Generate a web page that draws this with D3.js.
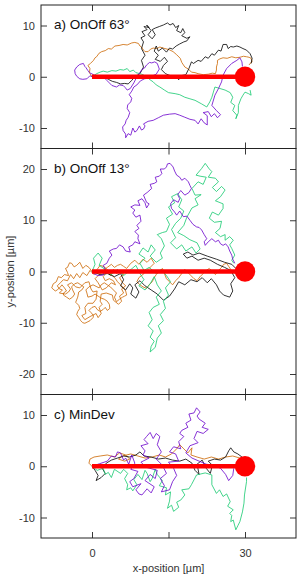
<!DOCTYPE html>
<html><head><meta charset="utf-8">
<script src="https://cdn.jsdelivr.net/npm/d3@7"></script>
<style>
html,body{margin:0;padding:0;background:#fff;}
svg{display:block;font-family:"Liberation Sans",Arial,Helvetica,sans-serif;}
</style></head>
<body><svg id="c" width="297" height="577"></svg>
<script>
// ---------- data ----------
const panelLabels = ["a) OnOff 63°", "b) OnOff 13°", "c) MinDev"];
const panelYDomains = [[-14, 14], [-24, 24], [-14, 14]];
const panelYTicks = [[-10, 0, 10], [-20, -10, 0, 10, 20], [-10, 0, 10]];
const xDomain = [-10, 40];
const xTicks = [0, 15, 30];
const xTickLabels = {0: "0", 30: "30"};
const xTitle = "x-position [µm]";
const yTitle = "y-position [µm]";
const startPoint = [0, 0];
const targetPoint = [30, 0];
const seriesNames = ["orange", "black", "green", "purple"];
const seriesColors = {orange: "#cc6600", black: "#000000", green: "#14c96e", purple: "#6a00cc"};

// panel a) OnOff 63°
const aOrange = [[0,0],[-0.5,0.8],[-0.4,1.6],[-0.8,2.2],[-0.3,2.6],[0.3,3.2],[0.6,3.7],[0.9,3.9],[1.4,4.6],[1.9,4.9],[2.6,5.1],[3.2,5.5],[3.8,5.4],[4.5,6.0],[5.3,6.1],[6.1,6.3],[6.9,6.2],[7.8,6.6],[8.4,6.7],[9.1,6.5],[9.4,6.0],[9.7,5.8],[10.1,5.2],[10.4,4.9],[11.0,4.9],[11.5,5.4],[12.0,5.6],[12.7,5.5],[13.3,5.8],[14.3,5.5],[15.1,5.3],[15.9,4.9],[16.6,4.3],[17.3,3.6],[17.6,2.8],[18.2,1.9],[18.9,1.5],[19.5,0.9],[20.2,0.8],[20.8,0.6],[21.8,0.4],[22.8,0.5],[23.6,0.7],[24.2,0.6],[24.4,1.3],[24.4,1.9],[24.6,2.6],[24.6,3.2],[25.1,3.5],[25.7,3.7],[26.5,3.6],[27.4,3.9],[28.2,3.7],[29.0,3.8],[29.7,4.0],[30.3,3.9],[30.8,3.8],[31.2,3.6],[31.4,2.9],[31.0,2.6],[30.8,2.3]];
const aBlack = [[0,0],[1.2,-0.2],[2.2,0.1],[3.2,-0.5],[4.0,-0.9],[4.8,-1.1],[5.6,-1.4],[6.4,-1.3],[7.1,-1.4],[7.8,-0.7],[8.4,0],[9.4,0.6],[10.1,1.9],[9.7,3.2],[10.4,4.2],[9.7,5.5],[10.1,6.8],[9.6,7.6],[10.4,8.0],[9.8,8.8],[10.8,9.2],[10.2,9.8],[11.2,9.6],[10.7,10.1],[11.6,9.0],[11.0,8.2],[11.8,7.4],[12.4,8.2],[11.8,9.2],[12.4,9.5],[13.2,9.8],[14.0,10.1],[14.8,10.5],[15.3,10.1],[15.9,10.4],[16.4,9.6],[17.0,10.0],[16.6,9.0],[17.4,8.6],[17.8,9.4],[18.2,8.6],[17.6,8.0],[18.6,7.5],[19.2,7.8],[18.6,7.0],[18.0,6.8],[17.2,6.4],[16.5,6.0],[15.8,5.4],[15.2,5.6],[14.6,4.8],[13.8,5.6],[13.0,5.0],[12.6,6.0],[12.2,5.0],[13.0,4.2],[12.4,3.4],[13.4,3.0],[14.2,3.8],[14.8,3.0],[14.0,2.2],[13.6,1.4],[14.4,0.6],[15.4,0.2],[16.4,0.2],[17.0,-0.6],[17.4,0.2],[18.4,0.4],[19.0,1.6],[19.5,2.9],[19.9,2.6],[20.8,3.2],[21.4,3.0],[22.2,3.9],[22.8,3.6],[23.5,4.5],[24.0,4.2],[24.8,5.2],[25.3,5.0],[25.7,6.3],[26.4,6.3],[26.7,5.5],[27.2,5.9],[27.7,5.8],[28.4,6.0],[29.0,5.8],[29.6,5.5],[30.3,5.2],[31.0,4.5],[31.4,3.6],[31.2,2.6]];
const aGreen = [[0,0],[0.9,0.6],[1.6,0.9],[2.2,1.1],[3.0,0.9],[3.9,1.2],[4.7,1.1],[5.5,1.4],[6.2,1.3],[6.9,1.6],[7.4,1.0],[8.1,1.3],[8.6,0.8],[9.4,0.6],[10.0,0.4],[10.7,0],[11.4,-0.6],[12.0,-1.0],[12.6,-1.6],[13.3,-2.0],[14.2,-2.6],[15.0,-3.1],[16.3,-3.3],[17.2,-3.5],[18.2,-4.0],[19.2,-4.3],[20.2,-4.6],[21.5,-5.3],[22.5,-5.9],[23.1,-4.9],[23.5,-4.0],[23.8,-3.0],[24.1,-2.0],[25.1,-2.3],[26.1,-2.6],[27.1,-3.1],[27.6,-4.0],[27.2,-5.0],[28.0,-5.6],[27.6,-6.6],[28.4,-7.5],[28.2,-8.2],[28.7,-7.0],[28.7,-5.6],[29.2,-4.3],[29.6,-3.6],[30.0,-3.0],[30.7,-3.3],[31.2,-3.6],[31.0,-2.6]];
const aPurple = [[0,0],[-0.4,0.2],[-1.0,-0.4],[-1.8,-0.5],[-2.4,-0.4],[-3.0,0.1],[-3.3,0.6],[-3.4,1.3],[-3.0,1.9],[-2.4,2.4],[-1.7,2.6],[-1.4,2.0],[-1.2,1.8],[-0.8,1.2],[-0.5,0.8],[0.5,0.3],[1.7,0.2],[2.4,-0.2],[2.9,-0.7],[3.4,-1.2],[3.9,-1.7],[4.8,-2.0],[5.4,-1.6],[6.1,-1.7],[6.5,-2.1],[6.9,-2.6],[7.5,-2.3],[8.2,-1.2],[8.6,-0.4],[9.0,0.3],[9.8,1.4],[10.3,1.7],[10.7,2.3],[11.3,2.8],[11.7,2.7],[12.3,2.9],[12.8,2.6],[13.2,1.5],[12.6,0.5],[11.9,0.2],[11.3,-0.2],[10.3,-0.4],[9.5,-0.8],[8.8,-1.6],[8.2,-2.0],[7.8,-2.8],[7.3,-3.5],[7.8,-4.2],[7.6,-4.9],[7.0,-5.5],[6.9,-6.2],[7.4,-7.0],[7.1,-7.9],[6.7,-8.5],[6.5,-9.2],[6.0,-9.8],[6.1,-10.5],[6.6,-11.2],[6.6,-11.9],[7.1,-11.1],[7.6,-11.4],[8.0,-10.0],[8.4,-10.8],[8.8,-10.5],[9.3,-9.6],[9.7,-10.4],[10.1,-10.2],[10.4,-9.6],[10.1,-9.2],[11.0,-8.7],[12.0,-8.5],[13.0,-8.0],[14.0,-7.5],[15.2,-7.3],[16.3,-7.2],[17.2,-7.5],[18.2,-7.9],[19.2,-8.3],[20.2,-8.5],[20.8,-9.2],[21.4,-8.2],[22.0,-9.0],[22.6,-9.4],[22.6,-7.6],[21.8,-7.0],[22.8,-6.8],[23.4,-7.8],[24.0,-7.2],[24.6,-8.0],[25.2,-7.4],[24.4,-6.6],[23.5,-5.6],[24.1,-3.6],[24.8,-2.3],[25.4,-1.0],[25.7,0.3],[26.4,1.6],[27.4,2.6],[28.4,3.2],[29.0,3.7],[29.4,2.9],[29.5,2.0]];

// panel b) OnOff 13°
const bOrange = [[0,0],[-0.6,0.8],[-1.2,1.2],[-1.8,0.6],[-2.4,1.8],[-3.0,1.2],[-3.5,0.9],[-4.0,1.6],[-4.4,1.7],[-4.8,0.8],[-5.2,0.6],[-4.8,-0.2],[-4.6,-0.8],[-5.4,-0.6],[-6.0,-1.2],[-6.6,-1.0],[-7.0,-2.0],[-7.6,-2.4],[-7.9,-3.2],[-7.2,-3.8],[-6.8,-3.6],[-6.2,-3.0],[-5.9,-2.6],[-5.4,-3.2],[-5.0,-3.8],[-5.6,-4.2],[-5.6,-4.6],[-5.0,-5.0],[-4.4,-5.4],[-3.8,-5.0],[-3.4,-4.4],[-3.8,-3.6],[-4.0,-3.0],[-3.4,-2.4],[-2.8,-2.2],[-2.2,-2.6],[-1.6,-3.0],[-2.0,-3.6],[-2.6,-4.0],[-2.8,-5.0],[-3.2,-6.0],[-2.6,-6.6],[-2.4,-7.2],[-2.8,-7.8],[-3.0,-8.4],[-2.6,-9.0],[-2.2,-9.6],[-1.8,-10.0],[-1.4,-10.1],[-0.8,-9.8],[-0.4,-9.6],[0.2,-9.0],[0.3,-8.6],[-0.2,-8.0],[-0.6,-7.6],[0.0,-7.0],[0.6,-6.8],[1.0,-7.4],[1.6,-7.8],[2.2,-7.4],[2.6,-7.0],[3.0,-7.6],[3.5,-7.2],[3.4,-6.4],[3.0,-5.8],[2.4,-5.4],[1.8,-5.2],[1.2,-4.8],[0.6,-4.4],[0.0,-4.8],[-0.8,-5.0],[-1.0,-4.2],[-1.2,-3.6],[-0.6,-3.0],[0.2,-2.6],[0.8,-2.9],[1.4,-3.2],[1.8,-2.6],[2.4,-2.2],[3.0,-2.6],[3.6,-3.0],[4.2,-3.6],[4.8,-4.2],[4.4,-5.0],[4.8,-5.9],[5.4,-5.4],[6.0,-5.0],[6.4,-4.8],[6.8,-4.6],[6.6,-3.8],[6.2,-3.2],[5.6,-2.6],[5.0,-2.0],[4.6,-1.4],[4.0,-0.8],[3.4,-0.2],[2.8,0.6],[2.2,1.0],[1.6,1.2],[1.0,0.4],[0.4,-0.6],[-0.4,0.2],[-1.0,-0.8],[-1.8,-0.2],[-2.4,-1.2],[-3.0,-0.4],[-3.6,-1.4],[-4.2,-0.6],[-4.8,-1.8],[-5.6,-1.6],[-6.2,-2.2],[-6.8,-2.8],[-6.4,-3.4],[-5.8,-3.6],[-6.4,-4.2],[-5.2,-4.4],[-4.6,-4.0],[-4.2,-3.4],[-4.8,-2.6],[-4.0,-2.2],[-3.2,-3.0],[-2.4,-3.2],[-1.4,-2.2],[-0.6,-2.0],[-0.2,-3.4],[0.2,-4.0],[1.0,-3.8],[0.8,-5.4],[0.2,-6.2],[-0.8,-6.2],[-1.4,-7.0],[-1.2,-8.2],[-2.0,-8.6],[-1.4,-9.4],[-0.4,-8.8],[0.8,-8.2],[1.2,-9.0],[1.8,-8.2],[1.4,-7.0],[2.0,-6.4],[1.6,-5.8],[1.8,-4.4],[2.8,-4.2],[4.0,-4.6],[4.2,-5.6],[5.2,-6.4],[5.8,-5.8],[5.4,-4.8],[6.2,-4.2],[5.8,-3.4],[6.6,-2.8],[6.0,-2.2],[5.4,-1.2],[6.2,-0.6],[5.6,0.2],[4.8,-0.4],[4.2,0.4],[3.6,-0.8],[3.0,0.0],[2.2,-1.0],[2.6,-1.8],[3.4,-1.4],[4.2,-1.8],[4.6,-2.6],[3.8,-2.2],[2.8,-3.2],[2.0,-3.6],[1.2,-2.2],[0.6,-1.4],[1.4,-0.6],[2.2,0.2],[3.0,0.8],[3.8,1.4],[4.4,0.8],[5.0,1.2],[5.6,1.4],[6.2,1.0],[6.8,0.6],[7.6,1.6],[8.4,2.2],[9.2,1.4],[10.0,2.4],[10.8,1.8],[11.6,2.6],[12.2,1.6],[11.2,0.6],[10.2,-0.4],[9.2,-1.2],[8.8,-2.0],[9.4,-2.6],[10.0,-3.0],[10.7,-3.3],[11.2,-2.6],[11.8,-2.0],[12.2,-1.2],[12.6,-0.6],[13.2,0.0],[13.8,0.6],[14.2,-0.4],[14.6,-1.4],[15.2,-2.0],[15.8,-2.6],[16.4,-1.8],[17.0,-1.2],[17.6,-0.4],[18.2,0.4],[18.8,-0.2],[19.4,-0.8],[20.0,-1.4],[20.6,-1.8],[21.2,-1.0],[21.8,-0.4],[22.4,0.2],[23.0,0.6],[23.6,0.0],[24.2,-0.6],[24.8,0.2],[25.4,0.8],[25.8,1.4],[26.4,1.6],[26.8,1.0],[27.2,0.4],[27.6,0.0],[28.0,-0.4]];
const bBlack = [[0,0],[1.6,-0.6],[3.0,-0.4],[4.4,-1.0],[5.6,-0.4],[6.2,-1.6],[5.6,-2.8],[6.6,-3.6],[7.4,-2.4],[8.0,-3.2],[7.6,-4.4],[8.6,-5.2],[9.2,-4.0],[8.4,-2.6],[9.4,-1.8],[10.4,-2.8],[11.6,-3.6],[12.8,-4.4],[14.0,-5.6],[15.2,-4.8],[16.2,-3.4],[17.0,-2.0],[18.2,-2.6],[19.4,-1.6],[20.6,-2.0],[21.6,-1.2],[22.6,-2.2],[23.4,-1.4],[24.4,-2.6],[25.0,-3.8],[25.8,-4.6],[27.0,-5.0],[27.6,-3.8],[27.2,-2.4],[28.0,-1.2],[27.2,0.2],[26.0,0.8],[24.6,1.4],[23.2,2.2],[22.0,2.6],[20.8,2.2],[19.6,3.0],[18.6,2.6],[17.9,3.4],[18.8,3.8],[19.8,3.2],[21.0,3.6],[22.6,3.0],[24.4,2.4],[26.0,1.8],[27.4,1.4],[28.2,0.6]];
const bGreen = [[0,0],[0.6,1.4],[0.3,2.6],[1.2,3.6],[2.0,2.6],[1.4,1.2],[2.6,0.4],[3.8,-0.6],[5.0,0.4],[6.2,-0.8],[7.4,0.2],[8.6,1.2],[9.4,-0.4],[10.2,-1.6],[9.2,-2.8],[10.4,-3.6],[11.4,-2.4],[12.2,-1.0],[12.8,-2.6],[13.6,-3.8],[12.6,-5.0],[13.2,-6.4],[12.0,-7.0],[11.2,-8.0],[11.8,-9.4],[11.0,-10.6],[12.0,-11.6],[11.4,-12.8],[12.2,-13.6],[11.6,-14.6],[11.4,-15.7],[12.4,-14.8],[12.8,-13.0],[13.6,-12.0],[13.0,-10.6],[14.0,-9.6],[13.4,-8.4],[14.4,-7.2],[14.0,-5.8],[15.0,-4.6],[14.4,-3.2],[15.4,-2.0],[14.6,-0.8],[13.6,0.4],[12.6,-0.4],[11.2,0.8],[10.2,0.2],[9.4,1.6],[10.4,2.6],[9.2,3.4],[10.0,4.6],[11.0,3.8],[11.6,5.2],[12.4,4.2],[11.4,3.0],[12.6,1.8],[13.8,2.6],[13.4,3.6],[14.2,5.0],[13.6,6.4],[12.8,7.2],[13.8,7.6],[14.6,7.8],[15.2,9.2],[14.6,10.4],[15.8,11.2],[15.0,12.6],[16.2,13.4],[15.6,14.6],[16.8,15.2],[17.6,14.0],[17.0,12.6],[18.0,11.8],[17.4,10.4],[16.4,9.4],[15.6,8.2],[16.4,6.6],[15.4,5.6],[16.6,4.4],[17.6,5.2],[18.4,4.0],[19.6,4.8],[20.4,3.6],[21.2,4.4],[20.6,5.6],[19.2,6.2],[18.0,7.0],[16.8,7.6],[18.0,9.0],[18.6,10.6],[19.6,12.4],[20.8,13.0],[20.2,14.2],[21.4,15.0],[20.2,14.9],[19.6,16.2],[20.8,17.5],[21.8,17.0],[22.4,18.4],[21.2,18.6],[20.4,18.8],[21.5,20.1],[22.2,21.1],[23.0,20.0],[23.5,19.5],[22.8,18.4],[24.2,18.2],[24.8,17.5],[23.6,16.4],[24.4,15.6],[25.4,16.6],[26.1,15.9],[25.2,14.6],[24.2,13.8],[25.7,13.2],[25.7,12.3],[24.8,11.0],[23.6,11.6],[23.0,10.4],[24.0,9.6],[25.4,9.8],[25.1,8.4],[24.2,7.6],[25.2,6.8],[26.1,7.2],[26.1,6.1],[27.0,6.8],[27.7,6.1],[27.0,5.2],[27.4,4.5],[28.0,3.2],[27.4,2.2],[27.8,1.6]];
const bPurple = [[0,0],[0.3,-0.4],[1.2,-0.8],[2.2,-0.7],[2.6,0.4],[2.2,1.2],[2.9,1.6],[3.4,2.6],[3.9,3.2],[3.4,4.0],[4.2,4.4],[4.8,4.5],[5.4,5.2],[6.1,4.8],[6.6,4.0],[7.5,3.8],[7.2,4.8],[8.0,5.2],[8.4,5.8],[9.4,5.4],[9.0,6.4],[9.1,7.1],[8.4,7.8],[9.2,8.4],[8.8,9.0],[9.6,9.8],[9.4,11.0],[8.6,10.6],[8.0,11.4],[8.4,12.0],[7.6,12.6],[8.4,13.0],[9.4,12.9],[9.0,13.8],[9.8,14.2],[10.4,13.4],[10.7,12.4],[11.2,13.2],[10.7,13.5],[10.1,14.9],[10.8,15.4],[11.7,16.2],[11.4,17.0],[12.2,17.2],[12.7,17.5],[12.4,18.4],[13.2,18.6],[13.7,19.1],[13.4,20.0],[14.2,20.0],[14.6,20.4],[14.8,21.0],[15.3,21.1],[15.9,20.4],[16.2,19.6],[16.6,18.8],[17.2,18.4],[17.6,17.8],[18.2,18.2],[18.9,17.5],[19.2,16.8],[19.5,16.2],[19.0,15.4],[18.2,14.9],[17.4,15.8],[16.8,15.0],[17.2,14.2],[16.9,13.5],[16.0,14.0],[15.4,13.2],[15.6,12.3],[16.2,11.6],[16.6,11.0],[17.2,11.8],[17.9,10.7],[18.6,10.8],[19.2,10.0],[19.8,9.2],[20.5,8.7],[21.0,8.6],[21.5,8.1],[22.0,7.2],[22.5,6.4],[22.0,5.8],[22.2,5.1],[22.8,5.8],[23.5,6.4],[24.2,5.8],[24.8,6.1],[25.2,5.4],[25.7,5.1],[26.2,5.4],[26.7,4.8],[27.0,4.0],[27.4,3.2],[27.6,2.4],[28.0,1.6]];

// panel c) MinDev
const cOrange = [[0,0],[-0.6,0.6],[-0.4,1.4],[0.4,1.8],[1.6,2.0],[3.0,2.2],[4.4,1.8],[5.4,2.6],[6.6,2.2],[7.4,1.4],[6.4,1.0],[5.2,1.4],[6.0,2.0],[7.6,2.4],[9.0,2.0],[10.4,1.6],[11.8,1.8],[13.2,2.2],[14.4,1.8],[15.6,2.4],[16.6,3.4],[17.2,4.2],[18.0,3.4],[18.8,2.6],[19.6,3.6],[19.4,2.2],[20.6,1.8],[22.0,1.4],[23.4,1.8],[24.8,1.4],[26.2,1.8],[27.6,2.0],[29.0,1.6],[29.6,1.0]];
const cBlack = [[0,0],[0.6,-0.8],[1.2,-1.8],[0.8,-2.8],[1.8,-2.2],[2.6,-1.4],[2.0,-0.4],[2.8,0.6],[3.8,1.2],[5.0,1.6],[6.2,2.0],[7.4,1.8],[8.6,2.2],[9.4,2.8],[10.2,2.0],[11.6,1.8],[13.0,1.4],[14.4,1.6],[15.8,1.2],[17.2,1.0],[18.4,1.4],[19.6,0.6],[20.2,-0.8],[21.0,-1.6],[20.6,0.4],[21.6,1.2],[22.4,-0.4],[23.2,-1.4],[23.6,0.2],[22.8,1.0],[24.0,1.4],[25.2,1.2],[26.2,1.8],[26.8,3.0],[27.2,3.6],[27.8,2.8],[28.6,2.4],[29.4,1.8]];
const cGreen = [[0,0],[1.0,-0.8],[2.2,-0.4],[2.6,-1.6],[3.2,-1.2],[3.8,-2.2],[4.4,-0.6],[5.6,-1.4],[6.2,-0.6],[7.0,-1.4],[6.4,-2.4],[7.0,-3.6],[6.8,-4.6],[7.6,-4.2],[8.0,-4.8],[8.8,-3.6],[8.2,-2.6],[9.0,-1.6],[9.8,-2.6],[10.4,-0.8],[10.8,-1.4],[11.4,-3.0],[11.8,-2.4],[12.4,-0.6],[12.8,-1.6],[13.8,-2.8],[13.2,-3.8],[14.6,-4.2],[14.4,-5.6],[15.4,-5.0],[15.2,-6.8],[14.8,-8.2],[15.6,-7.6],[16.0,-8.8],[17.0,-8.0],[16.6,-7.0],[17.4,-6.6],[18.2,-5.6],[17.6,-4.6],[19.0,-4.4],[19.5,-3.6],[20.5,-1.7],[22.2,-1.3],[23.5,-1.7],[23.5,-3.6],[24.4,-5.3],[25.0,-4.6],[25.7,-5.9],[26.4,-5.4],[27.1,-6.9],[26.6,-7.8],[27.7,-8.5],[27.0,-9.2],[27.4,-9.6],[27.2,-10.8],[27.7,-10.5],[28.2,-12.4],[28.6,-11.6],[29.0,-10.8],[29.5,-8.9],[29.8,-7.2],[29.9,-5.6],[30.3,-3.0],[30.3,-2.2]];
const cPurple = [[0,0],[1.5,0.5],[3.0,1.0],[3.8,2.0],[4.6,1.8],[5.0,2.8],[5.6,2.6],[6.2,1.2],[6.6,1.6],[7.2,0.4],[7.8,2.2],[8.4,0.6],[7.6,-0.6],[9.0,-1.0],[8.2,-2.4],[7.4,-3.0],[8.0,-4.0],[9.6,-3.4],[8.6,-4.6],[9.2,-5.4],[9.8,-5.6],[10.8,-4.4],[11.6,-5.2],[12.2,-4.0],[10.4,-2.8],[11.4,-1.6],[12.4,-2.4],[12.8,-0.8],[10.6,-0.2],[9.6,0.8],[11.2,1.6],[10.0,2.2],[10.4,3.0],[9.6,4.0],[11.0,4.4],[10.2,5.2],[10.7,5.8],[11.4,6.6],[12.0,5.4],[12.6,6.4],[13.3,5.8],[12.8,4.2],[13.6,2.8],[12.6,1.4],[13.8,0.2],[14.6,-1.4],[13.4,-2.4],[14.2,-3.8],[13.6,-5.0],[15.2,-4.6],[15.8,-3.0],[16.6,-1.8],[16.0,-0.4],[15.0,0.8],[17.0,1.0],[16.4,2.4],[15.2,2.8],[16.0,3.8],[17.4,3.4],[17.0,4.8],[18.0,5.8],[17.2,6.4],[17.6,7.0],[18.8,7.6],[18.4,8.4],[19.4,9.0],[19.0,10.2],[20.0,10.4],[20.5,11.4],[21.2,10.6],[20.6,9.8],[21.0,9.2],[22.2,8.4],[21.6,7.6],[22.8,7.2],[21.8,6.4],[20.6,6.8],[20.0,5.4],[20.8,4.6],[19.2,4.0],[18.4,2.6],[19.6,1.6],[21.0,1.0],[22.4,0.4],[23.8,0.2],[25.2,-0.4],[26.2,-1.6],[26.8,-2.8],[27.6,-1.8],[27.8,-0.4]];

const panelSeries = [
  {orange: aOrange, black: aBlack, green: aGreen, purple: aPurple},
  {orange: bOrange, black: bBlack, green: bGreen, purple: bPurple},
  {orange: cOrange, black: cBlack, green: cGreen, purple: cPurple}
];

// ---------- layout ----------
const svg = d3.select("#c");
const plotLeft = 41, plotRight = 296, plotTop = 5, plotBottom = 538;
const totalUnits = d3.sum(panelYDomains, d => d[1] - d[0]);
const x = d3.scaleLinear().domain(xDomain).range([plotLeft, plotRight]);
const tickLen = 6;
const ink = "#222";

let yCursor = plotTop;
panelYDomains.forEach((dom, i) => {
  const h = (plotBottom - plotTop) * (dom[1] - dom[0]) / totalUnits;
  const y0 = yCursor, y1 = yCursor + h;
  yCursor = y1;
  const y = d3.scaleLinear().domain(dom).range([y1, y0]);
  const g = svg.append("g");
  const clipId = "clip" + i;
  svg.append("clipPath").attr("id", clipId).append("rect")
    .attr("x", plotLeft).attr("y", y0).attr("width", plotRight - plotLeft).attr("height", h);

  const plot = g.append("g").attr("clip-path", `url(#${clipId})`);
  const line = d3.line().x(d => x(d[0])).y(d => y(d[1]));
  seriesNames.forEach(name => {
    plot.append("path").datum(panelSeries[i][name])
      .attr("d", line).attr("fill", "none")
      .attr("stroke", seriesColors[name]).attr("stroke-width", 0.8)
      .attr("stroke-linejoin", "round");
  });
  plot.append("line")
    .attr("x1", x(startPoint[0])).attr("y1", y(startPoint[1]))
    .attr("x2", x(targetPoint[0])).attr("y2", y(targetPoint[1]))
    .attr("stroke", "#ff0000").attr("stroke-width", 4.5);
  plot.append("circle")
    .attr("cx", x(targetPoint[0])).attr("cy", y(targetPoint[1]))
    .attr("r", 10.2).attr("fill", "#ff0000");

  const ay = g.append("g").attr("transform", `translate(${plotLeft},0)`)
    .call(d3.axisLeft(y).tickValues(panelYTicks[i]).tickSize(-tickLen).tickPadding(6).tickFormat(d3.format("d")));
  const ayr = g.append("g").attr("transform", `translate(${plotRight},0)`)
    .call(d3.axisRight(y).tickValues(panelYTicks[i]).tickSize(-tickLen).tickFormat(""));
  const axt = g.append("g").attr("transform", `translate(0,${y0})`)
    .call(d3.axisTop(x).tickValues(xTicks).tickSize(-tickLen).tickFormat(""));
  const axb = g.append("g").attr("transform", `translate(0,${y1})`)
    .call(d3.axisBottom(x).tickValues(xTicks).tickSize(-tickLen).tickPadding(11)
      .tickFormat(d => i === panelYDomains.length - 1 ? (xTickLabels[d] || "") : ""));
  [ay, ayr, axt, axb].forEach(a => {
    a.select(".domain").remove();
    a.selectAll(".tick line").attr("stroke", ink).attr("stroke-width", 0.9);
    a.selectAll(".tick text").attr("fill", "#333").style("font-size", "11px")
      .style("font-family", '"Liberation Sans",Arial,sans-serif');
  });
  ay.selectAll(".tick text").text(d => d < 0 ? "-" + Math.abs(d) : d);

  g.append("rect").attr("x", plotLeft).attr("y", y0).attr("width", plotRight - plotLeft).attr("height", h)
    .attr("fill", "none").attr("stroke", ink).attr("stroke-width", 1);

  g.append("text").attr("x", 54).attr("y", y0 + 24)
    .attr("fill", "#111").style("font-size", "13.5px").text(panelLabels[i]);
});

svg.append("text").attr("x", (plotLeft + plotRight) / 2).attr("y", 572).attr("text-anchor", "middle")
  .attr("fill", "#333").style("font-size", "11px").text(xTitle);
const midY = plotTop + (plotBottom - plotTop) * (panelYDomains[0][1] - panelYDomains[0][0] + (panelYDomains[1][1] - panelYDomains[1][0]) / 2) / totalUnits;
svg.append("text").attr("transform", `translate(14,${midY}) rotate(-90)`).attr("text-anchor", "middle")
  .attr("fill", "#333").style("font-size", "11px").text(yTitle);
</script></body></html>
